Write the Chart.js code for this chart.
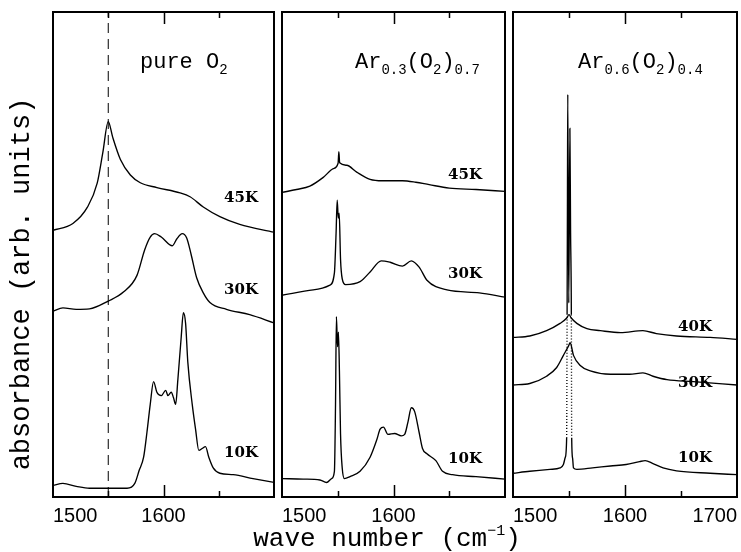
<!DOCTYPE html>
<html><head><meta charset="utf-8">
<script src="https://cdn.jsdelivr.net/npm/chart.js@4.4.1/dist/chart.umd.min.js"></script>
<style>
html,body{margin:0;padding:0;background:#fff;}
#wrap{position:relative;width:741px;height:552px;overflow:hidden;background:#fff;}
canvas{position:absolute;left:0;top:0;}
</style></head><body>
<div id="wrap">
<canvas id="c1" width="741" height="552"></canvas>
<canvas id="c2" width="741" height="552"></canvas>
<canvas id="c3" width="741" height="552"></canvas>
</div>
<script>
// ---------- data (wave number in cm^-1, absorbance in arb. units, offset spectra) ----------
const tickValues = [1500, 1550, 1600, 1650, 1700];
const majorTicks = [1600];
const tickLabels1 = [1500, 1600];
const tickLabels2 = [1500, 1600];
const tickLabels3 = [1500, 1600, 1700];

// pure O2
const p1_45K_x = [1500,1518,1531,1540,1545,1550,1554,1561,1570,1579,1594,1615,1624,1636,1651,1669,1700];
const p1_45K_y = [55.0,56.4,59.7,64.7,70.9,77.4,74.2,69.6,66.4,64.8,63.8,62.7,61.9,59.8,57.8,56.2,54.6];
const p1_30K_x = [1500,1509,1521,1533,1550,1564,1576,1583,1588,1592,1598,1608,1612,1617,1621,1625,1630,1636,1642,1657,1678,1700];
const p1_30K_y = [38.3,39.0,38.7,38.8,40.4,42.3,45.7,51.0,53.6,54.3,53.6,51.8,53.2,54.3,53.4,50.0,45.2,42.1,40.1,38.7,37.6,35.9];
const p1_10K_x = [1500,1509,1521,1533,1550,1567,1574,1578,1582,1585,1588,1591,1594,1598,1602,1604,1607,1609,1611,1613,1616,1618,1620,1622,1626,1629,1632,1635,1638,1641,1645,1651,1663,1681,1700];
const p1_10K_y = [2.4,2.8,2.2,1.8,1.8,1.8,2.8,5.5,8.2,13.3,19.1,23.8,21.6,20.9,22.0,20.9,21.6,20.5,19.1,24.2,32.9,38.0,35.8,27.8,19.1,14.0,9.6,10.0,10.4,8.2,6.0,4.9,4.6,3.8,3.0];
const p1_guide_x = [1550, 1550];
const p1_guide_y = [0, 100];

// Ar0.3(O2)0.7
const p2_45K_x = [1500,1513,1525,1537,1546,1550.3,1551,1551.7,1558,1567,1579,1590,1608,1620,1632,1650,1674,1700];
const p2_45K_y = [62.8,63.4,64.1,65.9,67.7,68.8,71.2,68.9,68.4,67.0,65.5,65.2,65.2,64.9,64.4,63.7,63.4,63.0];
const p2_30K_x = [1500,1528,1543,1547,1548.5,1549.5,1550.5,1551.3,1552.5,1554,1557,1570,1579,1589,1597,1608,1616,1623,1630,1648,1677,1700];
const p2_30K_y = [41.6,42.7,43.7,46.2,54.4,61.2,57.5,58.5,49.0,45.0,43.8,44.4,46.4,48.7,48.4,47.6,48.7,47.4,44.7,42.7,42.1,41.2];
const p2_10K_x = [1500,1519,1534,1540,1544.5,1547,1548,1548.8,1549.8,1550.6,1551.5,1552.5,1554,1556,1561,1570,1579,1585,1588,1591,1595,1601,1607,1610,1613,1616,1619,1623,1626,1630,1638,1644,1653,1674,1700];
const p2_10K_y = [3.8,3.7,3.5,3.0,3.8,5.3,19.1,37.2,31.0,34.0,26.0,13.0,6.0,3.8,4.2,5.3,8.2,11.8,14.0,14.4,12.9,13.1,12.6,12.9,15.5,18.4,17.6,13.3,10.0,8.9,7.5,5.3,4.6,4.2,3.7];

// Ar0.6(O2)0.4
const p3_40K_x = [1500,1515,1530,1542,1548,1550,1552,1557,1566,1578,1596,1616,1628,1646,1676,1700];
const p3_40K_y = [32.9,33.2,34.3,35.8,36.9,37.6,36.9,35.8,34.7,34.3,33.9,34.3,33.7,33.2,32.9,32.5];
const p3_30K_x = [1500,1515,1530,1539,1545,1549.5,1551,1554,1560,1569,1587,1604,1616,1625,1637.5,1661,1700];
const p3_30K_y = [23.1,23.4,24.9,26.7,29.2,31.1,31.8,29.2,27.1,26.0,25.3,25.3,25.6,24.9,24.2,23.8,23.1];
const p3_10K_x = [1500,1515,1533,1542,1545,1546.7,1547.9,1548.3,1548.6,1548.9,1549.8,1550.8,1551.4,1552.1,1552.4,1553.2,1554,1557,1571,1587,1601,1613,1618,1625,1634,1646,1676,1700];
const p3_10K_y = [4.9,5.3,5.7,6.0,6.7,8.2,12.2,37.6,60,83,40,76,55,37.6,12.2,8.0,6.0,5.7,6.0,6.4,6.7,7.3,7.5,6.9,6.0,5.4,4.9,4.6];
const p3_dottedRange = [12.2, 37.6];

// ---------- drawing ----------
const INK = '#000';
const MONO = '"Liberation Mono", "DejaVu Sans Mono", monospace';

function lineSet(xs, ys, extra) {
  return Object.assign({
    data: xs.map((x, i) => ({x: x, y: ys[i]})),
    borderColor: INK, borderWidth: 1.35, pointRadius: 0, fill: false,
    cubicInterpolationMode: 'monotone'
  }, extra || {});
}

function drawRich(ctx, parts, x, y, mainSize, smallSize) {
  let cx = x;
  parts.forEach(p => {
    ctx.font = (p.sub || p.sup ? smallSize : mainSize) + 'px ' + MONO;
    const dy = p.sub ? 6 : (p.sup ? -11 : 0);
    ctx.fillText(p.t, cx, y + dy);
    cx += ctx.measureText(p.t).width;
  });
  return cx - x;
}
function richWidth(ctx, parts, mainSize, smallSize) {
  let w = 0;
  parts.forEach(p => {
    ctx.font = (p.sub || p.sup ? smallSize : mainSize) + 'px ' + MONO;
    w += ctx.measureText(p.t).width;
  });
  return w;
}

function framePlugin(panel) {
  return {
    id: 'frame',
    afterDatasetsDraw(chart) {
      const ctx = chart.ctx, a = chart.chartArea, xs = chart.scales.x;
      ctx.save();
      ctx.strokeStyle = INK;
      ctx.lineWidth = 1.5;
      tickValues.forEach(v => {
        if (v === xs.min || v === xs.max) return;
        const px = Math.round(xs.getPixelForValue(v)) + 0.5;
        const len = majorTicks.includes(v) ? 12 : 6;
        ctx.beginPath();
        ctx.moveTo(px, a.bottom); ctx.lineTo(px, a.bottom - len);
        ctx.moveTo(px, a.top); ctx.lineTo(px, a.top + len);
        ctx.stroke();
      });
      ctx.lineWidth = 2;
      ctx.strokeRect(a.left, a.top, a.right - a.left, a.bottom - a.top);

      // temperature labels
      ctx.fillStyle = INK;
      ctx.font = 'bold 15px "DejaVu Serif"';
      ctx.textAlign = 'right';
      ctx.textBaseline = 'alphabetic';
      panel.temps.forEach(t => ctx.fillText(t.text, a.right - panel.labelInset, t.py));

      // panel title
      ctx.textAlign = 'left';
      drawRich(ctx, panel.title, a.left + panel.titleDx, 68, 22, 14);

      if (panel.axisTitles) {
        // y title
        ctx.save();
        ctx.translate(22, 284);
        ctx.rotate(-Math.PI / 2);
        ctx.font = '27px ' + MONO;
        ctx.textAlign = 'center';
        ctx.textBaseline = 'middle';
        ctx.fillText('absorbance (arb. units)', 0, 0);
        ctx.restore();
        // x title
        const parts = [{t: 'wave number (cm'}, {t: '\u22121', sup: true}, {t: ')'}];
        const w = richWidth(ctx, parts, 26, 15);
        ctx.textAlign = 'left';
        drawRich(ctx, parts, 387 - w / 2, 546, 26, 15);
      }
      ctx.restore();
    }
  };
}

function makePanel(panel) {
  return new Chart(document.getElementById(panel.id), {
    type: 'line',
    data: {datasets: panel.datasets},
    options: {
      responsive: false, animation: false, devicePixelRatio: 1,
      layout: {padding: {left: panel.left, right: 741 - panel.right, top: 12, bottom: 0}},
      plugins: {legend: {display: false}, tooltip: {enabled: false}},
      scales: {
        x: {
          type: 'linear', min: 1500, max: 1700,
          afterBuildTicks: s => { s.ticks = tickValues.map(v => ({value: v})); },
          afterFit: s => { s.height = 55; s.paddingLeft = 0; s.paddingRight = 0; },
          grid: {display: false}, border: {display: false},
          ticks: {
            autoSkip: false, maxRotation: 0, minRotation: 0, align: 'inner', padding: -1,
            color: INK, font: {family: '"Liberation Sans", Arial, sans-serif', size: 20},
            callback: v => panel.tickLabels.includes(v) ? String(v) : ''
          }
        },
        y: {display: false, min: 0, max: 100}
      }
    },
    plugins: [framePlugin(panel)]
  });
}

makePanel({
  id: 'c1', left: 53, right: 274, tickLabels: tickLabels1, labelInset: 16, titleDx: 87,
  title: [{t: 'pure O'}, {t: '2', sub: true}],
  temps: [{text: '45K', py: 202}, {text: '30K', py: 294}, {text: '10K', py: 457}],
  axisTitles: true,
  datasets: [
    lineSet(p1_guide_x, p1_guide_y, {borderDash: [10, 6], borderWidth: 1, cubicInterpolationMode: 'default', tension: 0}),
    lineSet(p1_45K_x, p1_45K_y),
    lineSet(p1_30K_x, p1_30K_y),
    lineSet(p1_10K_x, p1_10K_y)
  ]
});
makePanel({
  id: 'c2', left: 282, right: 505, tickLabels: tickLabels2, labelInset: 23, titleDx: 73,
  title: [{t: 'Ar'}, {t: '0.3', sub: true}, {t: '(O'}, {t: '2', sub: true}, {t: ')'}, {t: '0.7', sub: true}],
  temps: [{text: '45K', py: 179}, {text: '30K', py: 278}, {text: '10K', py: 463}],
  datasets: [
    lineSet(p2_45K_x, p2_45K_y),
    lineSet(p2_30K_x, p2_30K_y),
    lineSet(p2_10K_x, p2_10K_y)
  ]
});
const inDot = y => y >= p3_dottedRange[0] - 0.01 && y <= p3_dottedRange[1] + 0.01;
makePanel({
  id: 'c3', left: 513, right: 737, tickLabels: tickLabels3, labelInset: 25, titleDx: 65,
  title: [{t: 'Ar'}, {t: '0.6', sub: true}, {t: '(O'}, {t: '2', sub: true}, {t: ')'}, {t: '0.4', sub: true}],
  temps: [{text: '40K', py: 331}, {text: '30K', py: 387}, {text: '10K', py: 462}],
  datasets: [
    lineSet(p3_40K_x, p3_40K_y),
    lineSet(p3_30K_x, p3_30K_y),
    lineSet(p3_10K_x, p3_10K_y, {
      segment: {borderDash: ctx => (inDot(ctx.p0.parsed.y) && inDot(ctx.p1.parsed.y)) ? [1, 2] : undefined}
    })
  ]
});
</script>
</body></html>
